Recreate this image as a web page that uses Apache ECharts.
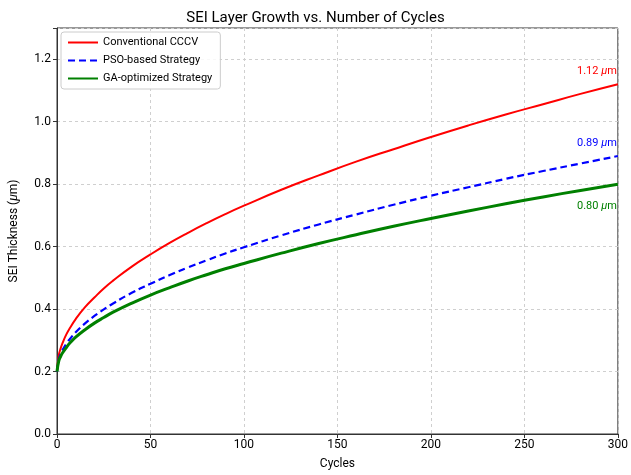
<!DOCTYPE html>
<html>
<head>
<meta charset="utf-8">
<script src="https://cdn.jsdelivr.net/npm/echarts@6/dist/echarts.min.js"></script>
<style>html,body{margin:0;padding:0;background:#fff}#chart{width:631px;height:475px}</style>
</head>
<body>
<div id="chart"></div>
<script>
// cycles sampled along the curves
var cycles = [0, 1, 2, 3, 5, 7, 10, 15, 20, 25, 30, 40, 50, 60, 70, 80, 90, 100, 120, 140, 160, 180, 200, 220, 240, 260, 280, 300];
var cccv = [0.200, 0.253, 0.275, 0.292, 0.319, 0.340, 0.368, 0.406, 0.437, 0.466, 0.491, 0.536, 0.575, 0.611, 0.644, 0.675, 0.704, 0.731, 0.782, 0.828, 0.872, 0.912, 0.951, 0.988, 1.023, 1.056, 1.089, 1.120];
var pso = [0.200, 0.240, 0.256, 0.269, 0.289, 0.305, 0.326, 0.354, 0.378, 0.399, 0.418, 0.452, 0.481, 0.508, 0.533, 0.556, 0.578, 0.598, 0.636, 0.671, 0.703, 0.734, 0.763, 0.790, 0.817, 0.842, 0.866, 0.890];
var ga = [0.200, 0.235, 0.249, 0.260, 0.277, 0.292, 0.310, 0.334, 0.355, 0.373, 0.390, 0.419, 0.445, 0.468, 0.490, 0.510, 0.529, 0.546, 0.579, 0.610, 0.638, 0.665, 0.690, 0.714, 0.737, 0.759, 0.780, 0.800];
var names = ['Conventional CCCV', 'PSO-based Strategy', 'GA-optimized Strategy'];
var colors = ['#ff0000', '#0000ff', '#008000'];
// end labels: [x, y, text]
var endLabels = [[300, 1.16, '1.12'], [300, 0.93, '0.89'], [300, 0.73, '0.80']];

var FONT = 'Roboto';

function pairs(ys) {
	return cycles.map(function(c, i) { return [c, ys[i]]; });
}

function endMark(idx) {
	var e = endLabels[idx];
	return {
		silent: true,
		symbol: 'circle',
		symbolSize: 0,
		data: [{ coord: [e[0], e[1]] }],
		label: {
			show: true,
			position: 'inside',
			align: 'right',
			offset: [-1, 0],
			formatter: e[2] + ' {u|μ}m',
			color: colors[idx],
			fontFamily: FONT,
			fontSize: 11,
			rich: { u: { fontStyle: 'italic', fontFamily: FONT, fontSize: 11, color: colors[idx] } }
		}
	};
}

var chart = echarts.init(document.getElementById('chart'));
chart.setOption({
	animation: false,
	title: {
		text: 'SEI Layer Growth vs. Number of Cycles',
		left: 'center',
		top: 6,
		textStyle: { fontFamily: FONT, fontSize: 15, fontWeight: 'normal', color: '#000' }
	},
	legend: {
		left: 61,
		top: 32,
		orient: 'vertical',
		itemWidth: 30,
		itemHeight: 10,
		itemGap: 7,
		padding: [5, 8, 5, 6],
		borderColor: '#cccccc',
		borderWidth: 1,
		borderRadius: 3,
		backgroundColor: 'rgba(255,255,255,0.85)',
		itemStyle: { opacity: 0 },
		textStyle: { fontFamily: FONT, fontSize: 11, color: '#000' },
		data: names
	},
	grid: { left: 57, right: 11, top: 28, bottom: 40, show: true, borderColor: '#333', borderWidth: 1 },
	xAxis: {
		type: 'value',
		min: 0,
		max: 300,
		interval: 50,
		name: 'Cycles',
		nameLocation: 'middle',
		nameGap: 24,
		nameTextStyle: { fontFamily: FONT, fontSize: 12, color: '#000' },
		axisLine: { show: true, lineStyle: { color: '#333' } },
		axisTick: { show: true, length: 4, lineStyle: { color: '#333' } },
		axisLabel: { fontFamily: FONT, fontSize: 12, color: '#000', margin: 5 },
		splitLine: { show: true, lineStyle: { type: [3, 3], color: '#cfcfcf' } }
	},
	yAxis: {
		type: 'value',
		min: 0,
		max: 1.3,
		interval: 0.2,
		name: 'SEI Thickness ({u|μ}m)',
		nameLocation: 'middle',
		nameGap: 37,
		nameTextStyle: {
			fontFamily: FONT, fontSize: 12, color: '#000',
			rich: { u: { fontStyle: 'italic', fontFamily: FONT, fontSize: 12, color: '#000' } }
		},
		axisLine: { show: true, lineStyle: { color: '#333' } },
		axisTick: { show: true, length: 4, lineStyle: { color: '#333' } },
		axisLabel: {
			fontFamily: FONT, fontSize: 12, color: '#000', margin: 6,
			formatter: function(v) { return v > 1.25 ? '' : v.toFixed(1); }
		},
		splitLine: { show: true, lineStyle: { type: [3, 3], color: '#cfcfcf' } }
	},
	series: [{
		name: names[0],
		type: 'line',
		data: pairs(cccv),
		smooth: true,
		symbol: 'none',
		color: colors[0],
		lineStyle: { width: 2, color: colors[0] },
		markPoint: endMark(0)
	}, {
		name: names[1],
		type: 'line',
		data: pairs(pso),
		smooth: true,
		symbol: 'none',
		color: colors[1],
		lineStyle: { width: 2.2, type: [7, 4], color: colors[1] },
		markPoint: endMark(1)
	}, {
		name: names[2],
		type: 'line',
		data: pairs(ga),
		smooth: true,
		symbol: 'none',
		color: colors[2],
		lineStyle: { width: 3, color: colors[2] },
		markPoint: endMark(2)
	}]
});
</script>
</body>
</html>
